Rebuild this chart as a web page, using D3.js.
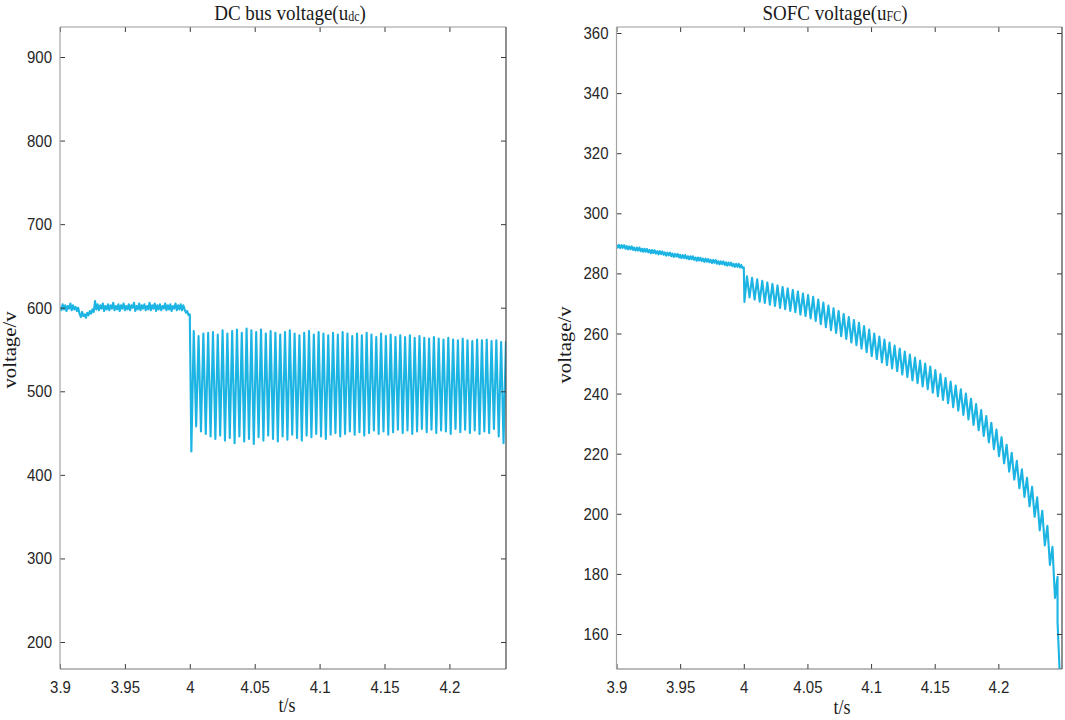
<!DOCTYPE html>
<html>
<head>
<meta charset="utf-8">
<script src="https://cdn.jsdelivr.net/npm/d3@7"></script>
<style>
  html, body { margin: 0; padding: 0; background: #ffffff; }
  svg { display: block; }
</style>
</head>
<body>
<svg id="chart" width="1065" height="720"></svg>
<script>
// ---------------- DATA ----------------
const xTicks = [3.9, 3.95, 4, 4.05, 4.1, 4.15, 4.2];
const xTickLabels = ["3.9", "3.95", "4", "4.05", "4.1", "4.15", "4.2"];
const leftYTicks = [200, 300, 400, 500, 600, 700, 800, 900];
const rightYTicks = [160, 180, 200, 220, 240, 260, 280, 300, 320, 340, 360];

// DC bus voltage before the event (3.9 s .. 4.0 s, every 1 ms)
const dcPreStart = 3.9, dcPreStep = 0.001;
const dcPre = [601,597,604,598,603,596,602,599,605,597,603,598,601,596,600,
               593,589,595,590,592,588,594,591,596,593,598,595,608,
               598,604,597,603,599,605,596,602,598,604,597,603,599,606,597,602,598,604,596,603,
               599,605,597,602,598,604,597,603,600,606,596,602,598,605,597,603,599,604,597,602,
               598,606,597,603,599,605,596,603,598,604,597,602,599,605,597,603,598,604,596,602,
               599,605,597,603,598,604,597,603,
               598,594,596,591,592];
// DC bus voltage oscillation after the event: one trough and one peak per cycle
const dcOscStart = 4.0012, dcOscPeriod = 0.0037;
const dcTroughs = [428,458,452,449,446,443,447,441,444,438,446,440,443,437,445,441,447,443,440,446,
                   442,448,444,441,447,445,449,446,443,448,450,446,449,452,448,451,447,450,453,449,
                   452,448,451,454,450,453,449,452,455,451,454,450,453,452,449,455,451,454,450,453,
                   449,452,450,455,446,438];
const dcPeaks   = [572,566,569,570,571,568,573,569,572,574,570,575,573,571,574,569,572,570,568,571,
                   573,569,567,570,572,568,571,569,567,570,568,571,569,566,569,567,570,568,565,569,
                   566,568,565,567,565,567,564,566,564,563,565,563,562,564,562,561,563,561,560,562,
                   561,562,560,561,559,560];

// SOFC voltage before the event (every 1 ms)
const fcPreStart = 3.9, fcPreStep = 0.001;
const fcPre = [289.5,288.6,289.5,288.4,289.4,288.5,289.4,288.2,289.1,288.0,
               289.0,288.0,289.0,287.8,288.6,287.6,288.6,287.6,288.6,287.4,
               288.2,287.2,288.2,287.2,288.1,287.0,287.8,286.7,287.8,286.8,
               287.7,286.6,287.4,286.3,287.4,286.4,287.3,286.2,287.0,285.9,
               286.9,286.0,286.9,285.7,286.6,285.5,286.5,285.6,286.5,285.3,
               286.2,285.1,286.1,285.1,286.1,284.9,285.7,284.7,285.7,284.7,
               285.7,284.5,285.3,284.2,285.3,284.3,285.2,284.1,284.9,283.8,
               284.9,283.9,284.8,283.7,284.5,283.4,284.5,283.5,284.4,283.2,
               284.1,283.0,284.0,283.1,284.0,282.8,283.7,282.6,283.6,282.7,
               283.6,282.4,283.2,282.2,283.2,282.2,283.2,282.0,282.8,281.8,
               282.0];
// SOFC voltage ripple after the event
const fcOscStart = 4.0005, fcOscPeriod = 0.004;
const fcTroughs = [270.5,272,271.3,270.6,270.2,269.6,269.2,268.5,268.1,267.5,
                   267.1,266.3,265.8,265,264.2,263.1,262.1,261.1,260.2,259.1,
                   258.2,257,256.1,255,253.8,252.5,251.5,250.4,249.5,248.4,
                   247.5,246.4,245.5,244.4,243.5,242.4,241.5,240.3,239.1,237.9,
                   236.8,235.5,234.3,232.9,231.4,229.6,227.8,225.9,223.8,221.5,
                   219.2,216.8,214,211.4,208.5,205.6,202.5,199,194.5,189.5,
                   183,172];
const fcPeaks   = [279,278.5,278,277.5,277,276.5,276,275.5,275,274.5,
                   274,273.3,272.8,272.2,271.3,270.3,269.3,268.4,267.5,266.5,
                   265.5,264.5,263.6,262.5,261.3,260,259,258,257,256,
                   255,254,253,252,251,250,249,247.8,246.5,245.2,
                   244,242.7,241.4,240,238.3,236.5,234.5,232.5,230.3,228,
                   225.5,223,220.3,217.6,214.8,212,209,205.5,201,196,
                   189,179];
const fcEnd = [[4.2465, 164], [4.2482, 147]];

// ---------------- BUILD SERIES ----------------
function buildSeries(preStart, preStep, pre, oscStart, period, troughs, peaks) {
  const pts = pre.map((v, i) => [preStart + i * preStep, v]);
  const n = Math.min(troughs.length, peaks.length);
  for (let i = 0; i < n; i++) {
    pts.push([oscStart + i * period, troughs[i]]);
    pts.push([oscStart + i * period + period / 2, peaks[i]]);
  }
  return pts;
}
const dcSeries = buildSeries(dcPreStart, dcPreStep, dcPre, dcOscStart, dcOscPeriod, dcTroughs, dcPeaks);
const fcSeries = buildSeries(fcPreStart, fcPreStep, fcPre, fcOscStart, fcOscPeriod, fcTroughs, fcPeaks).concat(fcEnd);

// ---------------- DRAW ----------------
const svg = d3.select("#chart");
const LINE = "#1bb4e3";
const STRETCH = 1.15;

function panel(cfg) {
  const x = d3.scaleLinear().domain(cfg.xDomain).range([cfg.left, cfg.right]);
  const y = d3.scaleLinear().domain(cfg.yDomain).range([cfg.bottom, cfg.top]);
  const g = svg.append("g");

  const clipId = "clip" + cfg.id;
  svg.append("defs").append("clipPath").attr("id", clipId)
    .append("rect").attr("x", cfg.left).attr("y", cfg.top)
    .attr("width", cfg.right - cfg.left).attr("height", cfg.bottom - cfg.top);

  // data line
  g.append("path")
    .datum(cfg.data)
    .attr("clip-path", `url(#${clipId})`)
    .attr("fill", "none")
    .attr("stroke", LINE)
    .attr("stroke-width", 2.1)
    .attr("stroke-linejoin", "round")
    .attr("d", d3.line().x(d => x(d[0])).y(d => y(d[1])));

  // axes (ticks inward, mirrored)
  const fmt = (d) => xTickLabels[xTicks.indexOf(d)];
  const bottomAx = g.append("g").attr("transform", `translate(0,${cfg.bottom})`)
    .call(d3.axisBottom(x).tickValues(xTicks).tickFormat(fmt).tickSizeInner(-5).tickSizeOuter(0).tickPadding(10));
  const topAx = g.append("g").attr("transform", `translate(0,${cfg.top})`)
    .call(d3.axisTop(x).tickValues(xTicks).tickFormat("").tickSizeInner(-5).tickSizeOuter(0));
  const leftAx = g.append("g").attr("transform", `translate(${cfg.left},0)`)
    .call(d3.axisLeft(y).tickValues(cfg.yTicks).tickFormat(d3.format("d")).tickSizeInner(-5).tickSizeOuter(0).tickPadding(8));
  const rightAx = g.append("g").attr("transform", `translate(${cfg.right},0)`)
    .call(d3.axisRight(y).tickValues(cfg.yTicks).tickFormat("").tickSizeInner(-5).tickSizeOuter(0));

  [bottomAx, topAx, leftAx, rightAx].forEach(a => {
    a.select(".domain").remove();
    a.selectAll(".tick line").attr("stroke", "#3a3a3a").attr("stroke-width", 1);
  });
  [bottomAx, leftAx].forEach(a => {
    a.selectAll(".tick text")
      .attr("fill", "#262626")
      .attr("font-family", "'Liberation Sans', Arial, sans-serif")
      .attr("font-size", 15)
      .attr("transform", `scale(1,${STRETCH})`);
  });

  // frame
  g.append("line").attr("x1", cfg.left).attr("x2", cfg.left).attr("y1", cfg.top).attr("y2", cfg.bottom)
    .attr("stroke", "#a3a3a3").attr("stroke-width", 1.2);
  g.append("line").attr("x1", cfg.left).attr("x2", cfg.right).attr("y1", cfg.top).attr("y2", cfg.top)
    .attr("stroke", "#9a9a9a").attr("stroke-width", 1.2);
  g.append("line").attr("x1", cfg.left).attr("x2", cfg.right).attr("y1", cfg.bottom).attr("y2", cfg.bottom)
    .attr("stroke", "#777777").attr("stroke-width", 1.2);
  g.append("line").attr("x1", cfg.right).attr("x2", cfg.right).attr("y1", cfg.top).attr("y2", cfg.bottom)
    .attr("stroke", "#444444").attr("stroke-width", 1.2);

  // title with subscript
  const title = g.append("text")
    .attr("transform", `translate(${cfg.titleX},20) scale(1,${STRETCH})`)
    .attr("text-anchor", "middle")
    .attr("font-family", "'Liberation Serif', 'Times New Roman', serif")
    .attr("font-size", 19)
    .attr("fill", "#1a1a1a");
  title.append("tspan").text(cfg.title);
  title.append("tspan").attr("font-size", 12).attr("dy", 1).text(cfg.sub);
  title.append("tspan").attr("dy", -1).text(")");

  // x label
  g.append("text")
    .attr("transform", `translate(${cfg.xLabelX},${cfg.xLabelY}) scale(1,${STRETCH})`)
    .attr("text-anchor", "middle")
    .attr("font-family", "'Liberation Serif', 'Times New Roman', serif")
    .attr("font-size", 18)
    .attr("fill", "#1a1a1a")
    .text("t/s");

  // y label
  g.append("text")
    .attr("transform", `translate(${cfg.yLabelX},${cfg.yLabelY}) rotate(-90) scale(${STRETCH},1)`)
    .attr("text-anchor", "middle")
    .attr("font-family", "'Liberation Serif', 'Times New Roman', serif")
    .attr("font-size", 18)
    .attr("fill", "#1a1a1a")
    .text("voltage/v");
}

panel({
  id: "L", left: 60, right: 506, top: 27, bottom: 669,
  xDomain: [3.9, 4.2436], yDomain: [167.7, 935.9], yTicks: leftYTicks,
  data: dcSeries, title: "DC bus voltage(u", sub: "dc", titleX: 290,
  xLabelX: 287, xLabelY: 712, yLabelX: 16, yLabelY: 350
});
panel({
  id: "R", left: 616.5, right: 1062, top: 27, bottom: 669,
  xDomain: [3.9, 4.25], yDomain: [148.35, 362.0], yTicks: rightYTicks,
  data: fcSeries, title: "SOFC voltage(u", sub: "FC", titleX: 835,
  xLabelX: 842, xLabelY: 714, yLabelX: 571, yLabelY: 345
});
</script>
</body>
</html>
